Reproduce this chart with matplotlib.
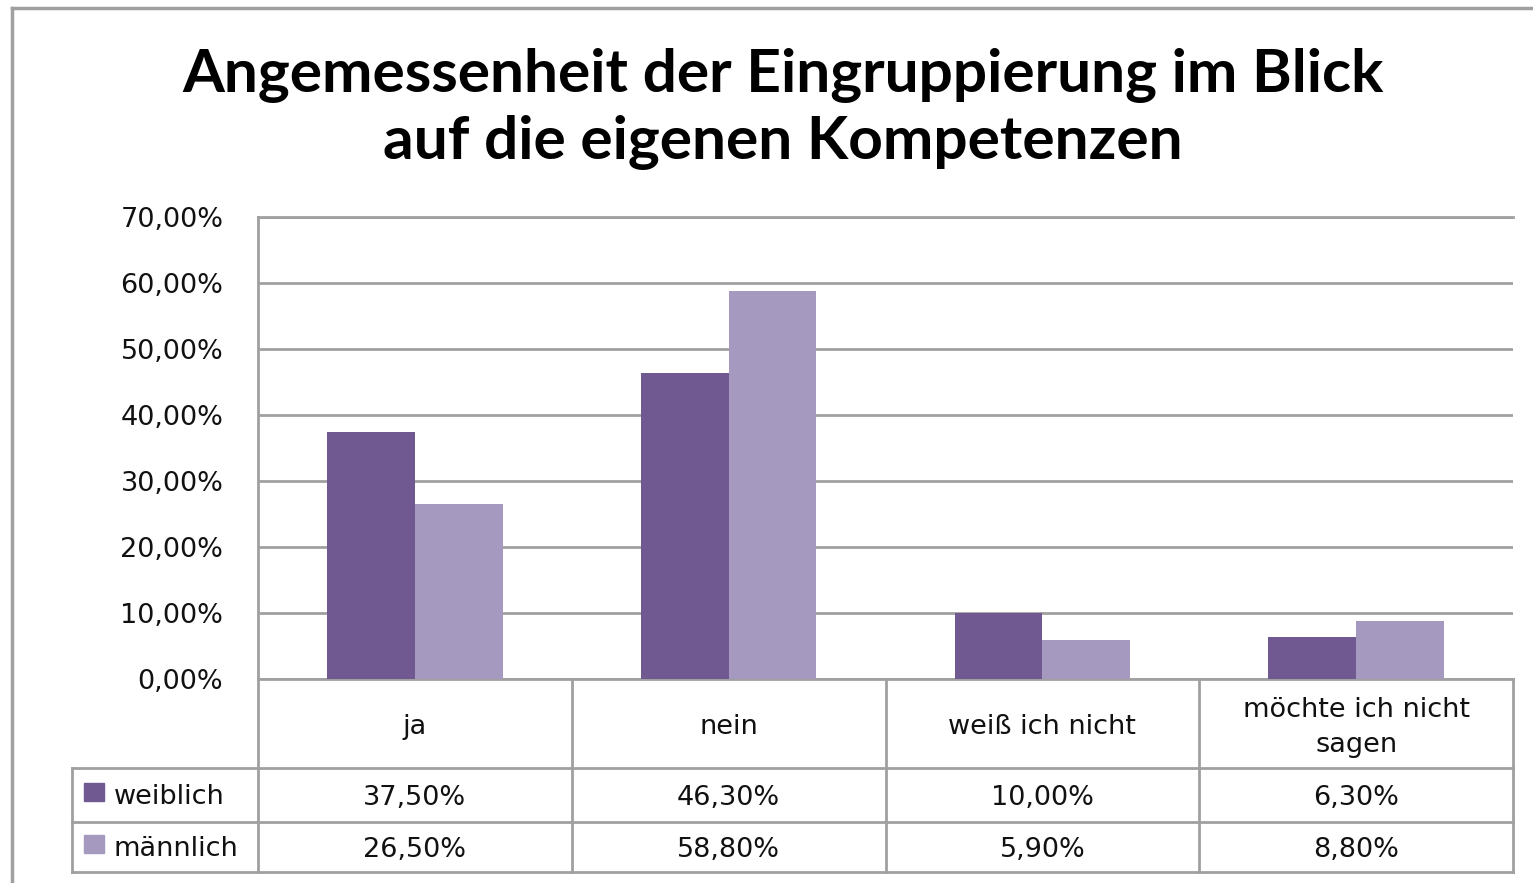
import matplotlib
matplotlib.use('Agg')
from matplotlib import pyplot as plt
from matplotlib.lines import Line2D
from matplotlib.patches import Rectangle
import numpy as np

categories = ['ja', 'nein', 'weiß ich nicht', 'möchte ich nicht\nsagen']
series_names = ['weiblich', 'männlich']
weiblich = [37.5, 46.3, 10.0, 6.3]
maennlich = [26.5, 58.8, 5.9, 8.8]
y_ticks = [0, 10, 20, 30, 40, 50, 60, 70]
title = 'Angemessenheit der Eingruppierung im Blick\nauf die eigenen Kompetenzen'

colors = ['#705890', '#a699bf']
grid_col = '#a0a0a0'
txt_col = '#111111'
fs = 19.5


def pct(v):
    return f'{v:.2f}%'.replace('.', ',')


W, H = 1533, 883
fig = plt.figure(figsize=(W / 100, H / 100), dpi=100)

# plot area in pixel coords of the reference
left, right, top, bottom = 258, 1513, 217, 679
ax = fig.add_axes([left / W, 1 - bottom / H, (right - left) / W, (bottom - top) / H])

x = np.arange(len(categories))
bw = 0.28
ax.bar(x - bw / 2, weiblich, bw, color=colors[0], zorder=3)
ax.bar(x + bw / 2, maennlich, bw, color=colors[1], zorder=3)

ax.set_xlim(-0.5, len(categories) - 0.5)
ax.set_ylim(0, 70)
ax.set_yticks(y_ticks)
ax.set_yticklabels([pct(t) for t in y_ticks], fontsize=fs, color=txt_col)
ax.tick_params(axis='y', length=0, pad=25)
ax.set_xticks([])
ax.yaxis.grid(True, color=grid_col, lw=2, zorder=0)
ax.set_axisbelow(True)
for s in ['right', 'bottom']:
    ax.spines[s].set_visible(False)
for s in ['left', 'top']:
    ax.spines[s].set_color(grid_col)
    ax.spines[s].set_linewidth(2)

# data table below the plot area (axes fraction coordinates)
ph = bottom - top
pw = right - left
row_y = [0, -(768 - bottom) / ph, -(822 - bottom) / ph, -(872 - bottom) / ph]
leg_x = (72 - left) / pw
tr = ax.transAxes


def hline(y, x0, x1):
    ax.add_line(Line2D([x0, x1], [y, y], transform=tr, color=grid_col, lw=2, clip_on=False))


def vline(xx, y0, y1):
    ax.add_line(Line2D([xx, xx], [y0, y1], transform=tr, color=grid_col, lw=2, clip_on=False))


hline(row_y[0], 0, 1)
for y in row_y[1:]:
    hline(y, leg_x, 1)
for i in range(len(categories) + 1):
    vline(i / len(categories), row_y[0], row_y[3])
vline(leg_x, row_y[1], row_y[3])

n = len(categories)
for i, cat in enumerate(categories):
    cx = (i + 0.5) / n
    ax.text(cx, (row_y[0] + row_y[1]) / 2 - 0.008, cat, transform=tr, ha='center', va='center',
            fontsize=fs, color=txt_col, linespacing=1.45)
    for r, vals in enumerate([weiblich, maennlich]):
        ax.text(cx, (row_y[r + 1] + row_y[r + 2]) / 2 - 0.007, pct(vals[i]), transform=tr,
                ha='center', va='center', fontsize=fs, color=txt_col)

for r, name in enumerate(series_names):
    yc = (row_y[r + 1] + row_y[r + 2]) / 2
    sq_w, sq_h = 20 / pw, 18 / ph
    ax.add_patch(Rectangle(((84 - left) / pw, yc - sq_h / 2 + 0.006), sq_w, sq_h, transform=tr,
                           color=colors[r], clip_on=False))
    ax.text((114 - left) / pw, yc - 0.004, name, transform=tr, ha='left', va='center',
            fontsize=fs, color=txt_col)

fig.text(783 / W, 1 - 109 / H, title, ha='center', va='center', fontsize=43.5,
         fontweight='bold', family='Lato', linespacing=1.27, color='black')

# outer chart border
fig.add_artist(Line2D([12 / W, 12 / W], [0, 1 - 8 / H], transform=fig.transFigure,
                      color=grid_col, lw=2.5))
fig.add_artist(Line2D([12 / W, 1], [1 - 8 / H, 1 - 8 / H], transform=fig.transFigure,
                      color=grid_col, lw=2.5))

fig.savefig('out.png', dpi=100, facecolor='white')
